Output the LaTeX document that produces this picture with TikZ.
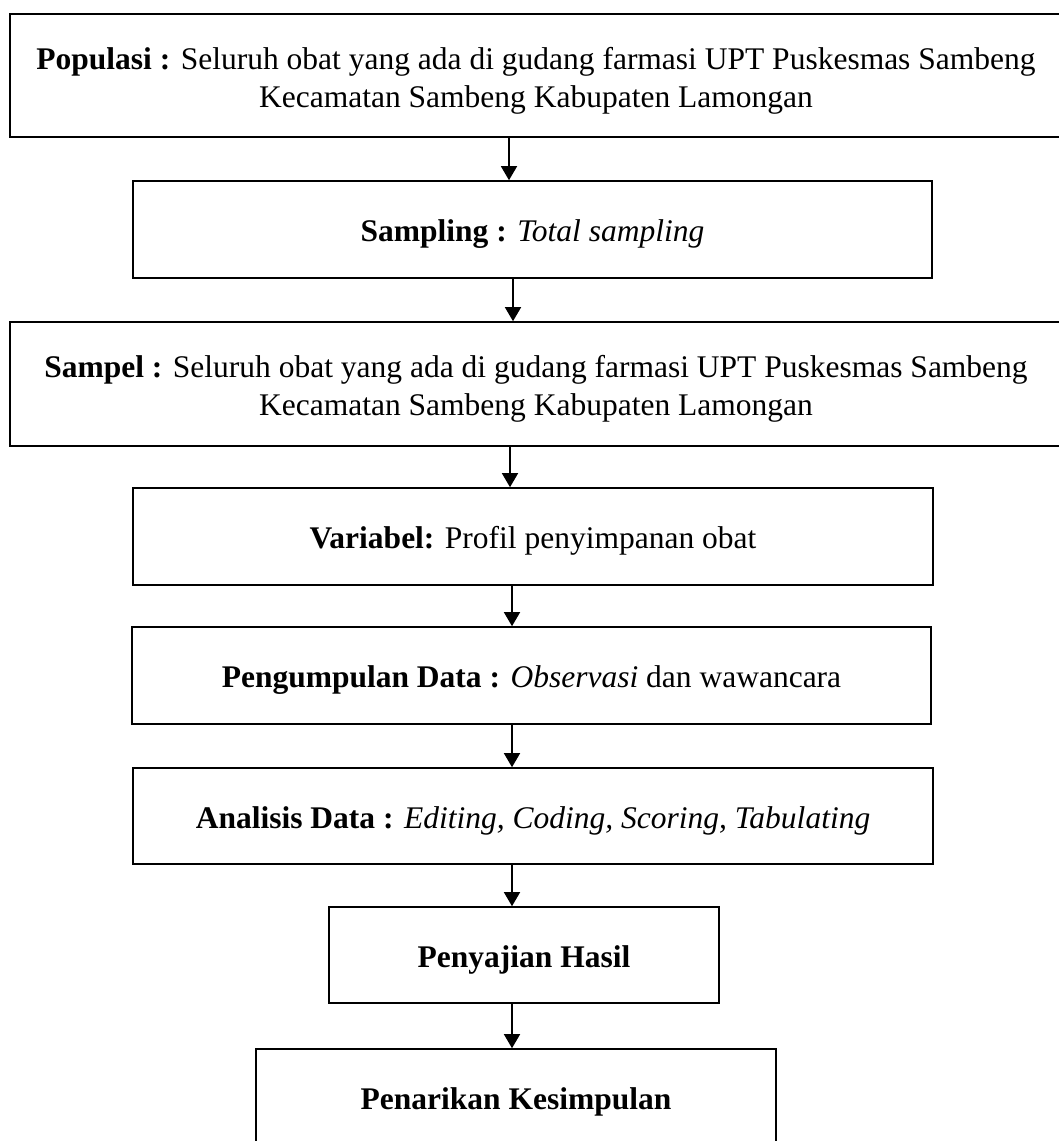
\documentclass[tikz,border=0pt]{standalone}
\usepackage{fontspec}
\setmainfont{Liberation Serif}
\usetikzlibrary{arrows.meta}
\begin{document}
\begin{tikzpicture}[x=1pt,y=-1pt,
  box/.style={draw=black,line width=1.6pt,rectangle,inner sep=0pt,align=center,
    font=\fontsize{31.5}{38}\selectfont},
  oneline/.style={box,text height=24pt,text depth=0pt},
  twoline/.style={box,text height=63pt,text depth=0pt},
  arr/.style={line width=1.4pt,-{Triangle[width=16pt,length=14pt]}}]
\useasboundingbox (0,0) rectangle (1059,1141);
\clip (0,0) rectangle (1059,1141);
\node[twoline,minimum width=1052pt,minimum height=123pt] (b1) at (536,75.5)
  {\textbf{Populasi :} Seluruh obat yang ada di gudang farmasi UPT Puskesmas Sambeng\\Kecamatan Sambeng Kabupaten Lamongan};
\node[oneline,minimum width=799pt,minimum height=97pt] (b2) at (532.5,229.5)
  {\textbf{Sampling :} \textit{Total sampling}};
\node[twoline,minimum width=1052pt,minimum height=124pt] (b3) at (536,384)
  {\textbf{Sampel :} Seluruh obat yang ada di gudang farmasi UPT Puskesmas Sambeng\\Kecamatan Sambeng Kabupaten Lamongan};
\node[oneline,minimum width=800pt,minimum height=97pt] (b4) at (533,536.5)
  {\textbf{Variabel:} Profil penyimpanan obat};
\node[oneline,minimum width=799pt,minimum height=97pt] (b5) at (531.5,675.5)
  {\textbf{Pengumpulan Data :} \textit{Observasi} dan wawancara};
\node[oneline,minimum width=800pt,minimum height=96pt] (b6) at (533,816)
  {\textbf{Analisis Data :} \textit{Editing, Coding, Scoring, Tabulating}};
\node[oneline,minimum width=390pt,minimum height=96pt] (b7) at (524,955)
  {\textbf{Penyajian Hasil}};
\node[oneline,minimum width=520pt,minimum height=97pt] (b8) at (516,1097.5)
  {\textbf{Penarikan Kesimpulan}};
\draw[arr] (b1.south -| 509,0) -- (b2.north -| 509,0);
\draw[arr] (b2.south -| 513,0) -- (b3.north -| 513,0);
\draw[arr] (b3.south -| 510,0) -- (b4.north -| 510,0);
\draw[arr] (b4.south -| 512,0) -- (b5.north -| 512,0);
\draw[arr] (b5.south -| 512,0) -- (b6.north -| 512,0);
\draw[arr] (b6.south -| 512,0) -- (b7.north -| 512,0);
\draw[arr] (b7.south -| 512,0) -- (b8.north -| 512,0);
\end{tikzpicture}
\end{document}
